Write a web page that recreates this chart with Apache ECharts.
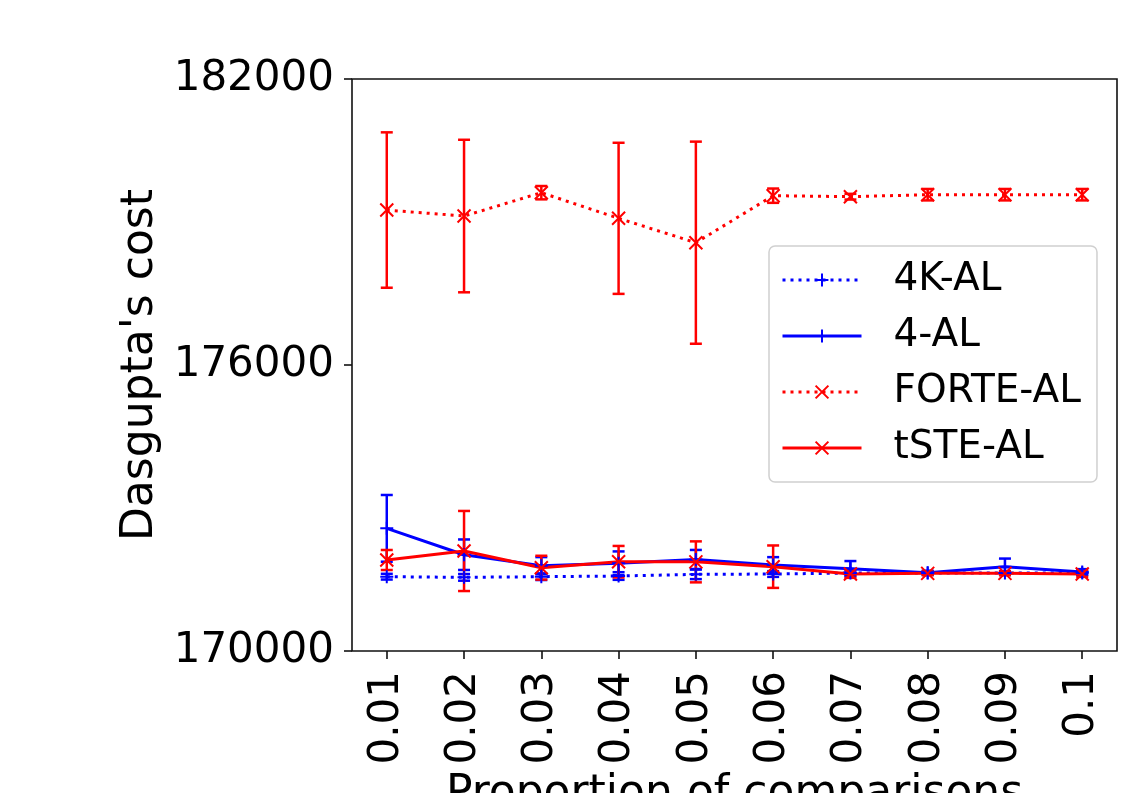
<!DOCTYPE html>
<html>
<head>
<meta charset="utf-8">
<title>Dasgupta's cost</title>
<script src="https://cdn.jsdelivr.net/npm/echarts@6/dist/echarts.min.js"></script>
<style>
  html, body { margin: 0; padding: 0; background: #fff; }
  #chart { width: 1124px; height: 793px; }
</style>
</head>
<body>
<div id="chart"></div>
<script>
// proportion of comparisons on the x axis
const proportions = [0.01, 0.02, 0.03, 0.04, 0.05, 0.06, 0.07, 0.08, 0.09, 0.1];
const yTicks = [170000, 176000, 182000];

// mean cost and error (half height of the bar)
const k4Mean = [171559, 171545, 171559, 171573, 171608, 171615, 171636, 171636, 171636, 171636];
const k4Err = [60, 70, 70, 80, 100, 60, 50, 40, 40, 40];
const al4Mean = [172573, 172020, 171790, 171839, 171920, 171804, 171727, 171643, 171769, 171657];
const al4Err = [700, 320, 180, 250, 200, 165, 160, 40, 170, 60];
const forteMean = [179251, 179125, 179615, 179077, 178566, 179552, 179531, 179573, 179573, 179573];
const forteErr = [1630, 1600, 140, 1585, 2120, 150, 60, 120, 120, 120];
const tsteMean = [171909, 172098, 171748, 171874, 171870, 171769, 171615, 171629, 171629, 171615];
const tsteErr = [210, 840, 250, 330, 430, 445, 80, 40, 40, 60];

const FONT = "DejaVu Sans";
const PLUS = "path://M0,5L10,5M5,0L5,10";
const CROSS = "path://M0,0L10,10M0,10L10,0";

function points(means) {
  return proportions.map((p, i) => [p, means[i]]);
}

function errRows(means, errs) {
  return proportions.map((p, i) => [p, means[i] - errs[i], means[i] + errs[i]]);
}

function lineSeries(name, means, color, dotted, symbol) {
  return {
    name: name,
    type: "line",
    data: points(means),
    symbol: symbol,
    symbolSize: 13,
    showAllSymbol: true,
    lineStyle: { color: color, width: 3, type: dotted ? [3, 5] : "solid" },
    itemStyle: { color: color, borderColor: color, borderWidth: 2 },
    z: 3,
  };
}

function errorSeries(name, means, errs, color) {
  return {
    name: name + " err",
    type: "custom",
    data: errRows(means, errs),
    encode: { x: 0, y: [1, 2] },
    z: 2,
    renderItem: (params, api) => {
      const x = api.value(0);
      const lo = api.coord([x, api.value(1)]);
      const hi = api.coord([x, api.value(2)]);
      const half = 6;
      const style = { stroke: color, lineWidth: 2.5 };
      return {
        type: "group",
        children: [
          { type: "line", shape: { x1: hi[0], y1: hi[1], x2: lo[0], y2: lo[1] }, style: style },
          { type: "line", shape: { x1: hi[0] - half, y1: hi[1], x2: hi[0] + half, y2: hi[1] }, style: style },
          { type: "line", shape: { x1: lo[0] - half, y1: lo[1], x2: lo[0] + half, y2: lo[1] }, style: style },
        ],
      };
    },
  };
}

const chart = echarts.init(document.getElementById("chart"));

const option = {
  animation: false,
  backgroundColor: "#fff",
  textStyle: { fontFamily: FONT },
  grid: {
    left: 352,
    right: 7,
    top: 79,
    bottom: 142,
    containLabel: false,
    outerBoundsMode: "none",
    show: true,
    borderColor: "#111",
    borderWidth: 1.6,
  },
  legend: {
    data: ["4K-AL", "4-AL", "FORTE-AL", "tSTE-AL"],
    orient: "vertical",
    left: 769,
    top: 246,
    itemWidth: 79,
    itemHeight: 16,
    itemGap: 12,
    padding: [12, 16, 12, 12],
    backgroundColor: "#fff",
    borderColor: "#d0d0d0",
    borderWidth: 1.5,
    borderRadius: 6,
    lineStyle: { width: 3 },
    textStyle: {
      fontFamily: FONT,
      fontSize: 39,
      lineHeight: 44,
      color: "#000",
      padding: [0, 0, 0, 27],
    },
  },
  xAxis: {
    type: "value",
    min: 0.0055,
    max: 0.1045,
    name: "Proportion of comparisons",
    nameLocation: "middle",
    nameGap: 112,
    nameTextStyle: { fontFamily: FONT, fontSize: 44, color: "#000" },
    axisLine: { show: false },
    axisTick: {
      show: true,
      customValues: proportions,
      length: 8,
      lineStyle: { color: "#111", width: 1.6 },
    },
    axisLabel: {
      customValues: proportions,
      rotate: 90,
      margin: 20,
      fontFamily: FONT,
      fontSize: 42,
      color: "#000",
      formatter: (v) => String(v),
    },
    splitLine: { show: false },
  },
  yAxis: {
    type: "value",
    min: yTicks[0],
    max: yTicks[yTicks.length - 1],
    interval: yTicks[1] - yTicks[0],
    name: "Dasgupta's cost",
    nameLocation: "middle",
    nameGap: 188,
    nameTextStyle: { fontFamily: FONT, fontSize: 44, color: "#000" },
    axisLine: { show: false },
    axisTick: { show: true, length: 8, lineStyle: { color: "#111", width: 1.6 } },
    axisLabel: {
      margin: 18,
      fontFamily: FONT,
      fontSize: 42,
      color: "#000",
      formatter: (v) => String(v),
    },
    splitLine: { show: false },
  },
  series: [
    errorSeries("4K-AL", k4Mean, k4Err, "#0000ff"),
    lineSeries("4K-AL", k4Mean, "#0000ff", true, PLUS),
    errorSeries("4-AL", al4Mean, al4Err, "#0000ff"),
    lineSeries("4-AL", al4Mean, "#0000ff", false, PLUS),
    errorSeries("FORTE-AL", forteMean, forteErr, "#ff0000"),
    lineSeries("FORTE-AL", forteMean, "#ff0000", true, CROSS),
    errorSeries("tSTE-AL", tsteMean, tsteErr, "#ff0000"),
    lineSeries("tSTE-AL", tsteMean, "#ff0000", false, CROSS),
  ],
};

chart.setOption(option);
</script>
</body>
</html>
